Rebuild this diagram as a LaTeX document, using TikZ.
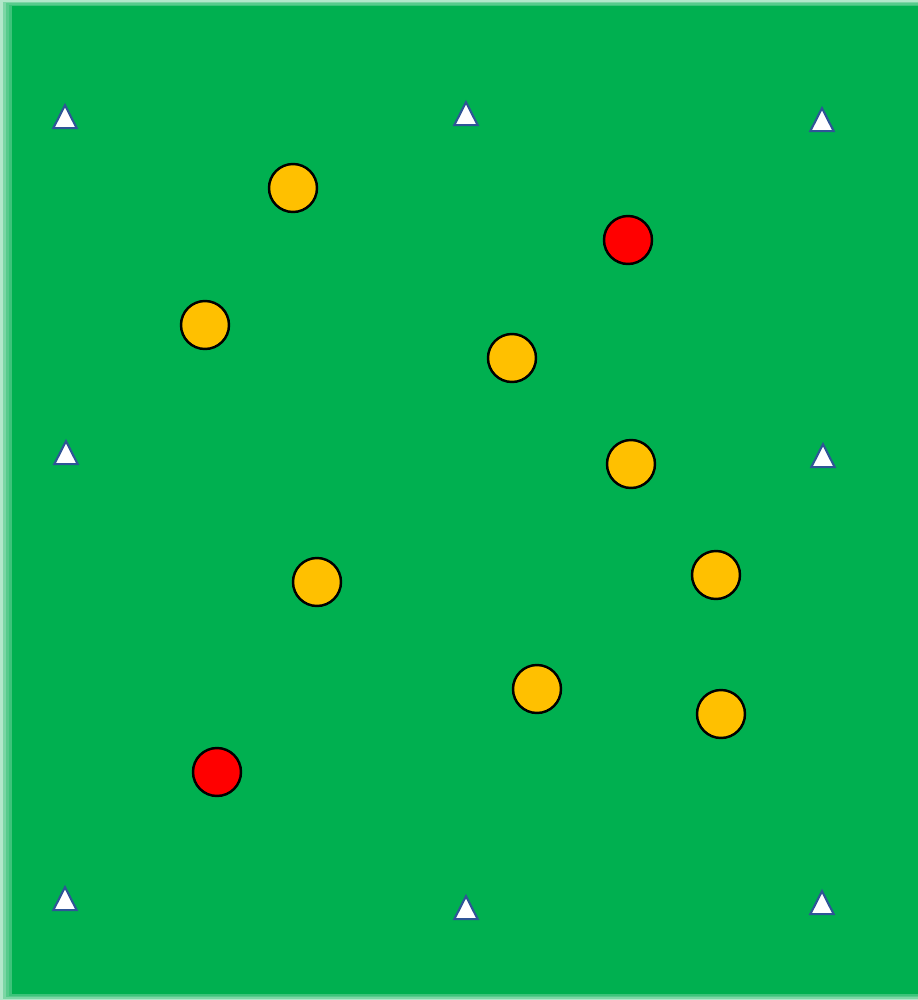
\documentclass[tikz,border=0pt]{standalone}
\usepackage{tikz}
\usetikzlibrary{shapes.geometric}
\definecolor{fieldGreen}{RGB}{0,176,80}
\definecolor{ballYellow}{RGB}{255,192,0}
\definecolor{ballRed}{RGB}{255,0,0}
\definecolor{coneBorder}{RGB}{47,85,151}
\tikzset{
  ball/.style={circle, draw=black, fill=#1, line width=0.7pt, minimum size=4.8mm, inner sep=0pt},
  cone/.style={isosceles triangle, isosceles triangle apex angle=54, shape border rotate=90,
    draw=coneBorder, fill=white, line width=0.6pt, inner sep=0pt, minimum height=2.3mm, yshift=-0.3mm},
}
\begin{document}
\begin{tikzpicture}[x=0.1mm, y=-0.1mm]
\useasboundingbox (0,0) rectangle (918,1000);

% FIELD (soft edge)
\foreach \d in {0,3,6,9} {
  \fill[fieldGreen, opacity=0.3] (\d,\d*0.5) rectangle (918,1000-\d*0.5);
}
\fill[fieldGreen] (12,6) rectangle (918,994);

%% CONES
\node[cone] (cone1) at (65,118) {};
\node[cone] (cone2) at (466,115) {};
\node[cone] (cone3) at (822,121) {};
\node[cone] (cone4) at (66,454) {};
\node[cone] (cone5) at (823,457) {};
\node[cone] (cone6) at (65,900) {};
\node[cone] (cone7) at (466,909) {};
\node[cone] (cone8) at (822,904) {};

%% BALLS
\node[ball=ballYellow] (yel1) at (293,188) {};
\node[ball=ballYellow] (yel2) at (205,325) {};
\node[ball=ballYellow] (yel3) at (512,358) {};
\node[ball=ballYellow] (yel4) at (631,464) {};
\node[ball=ballYellow] (yel5) at (317,582) {};
\node[ball=ballYellow] (yel6) at (716,575) {};
\node[ball=ballYellow] (yel7) at (537,689) {};
\node[ball=ballYellow] (yel8) at (721,714) {};
\node[ball=ballRed] (red1) at (628,240) {};
\node[ball=ballRed] (red2) at (217,772) {};

\end{tikzpicture}
\end{document}
